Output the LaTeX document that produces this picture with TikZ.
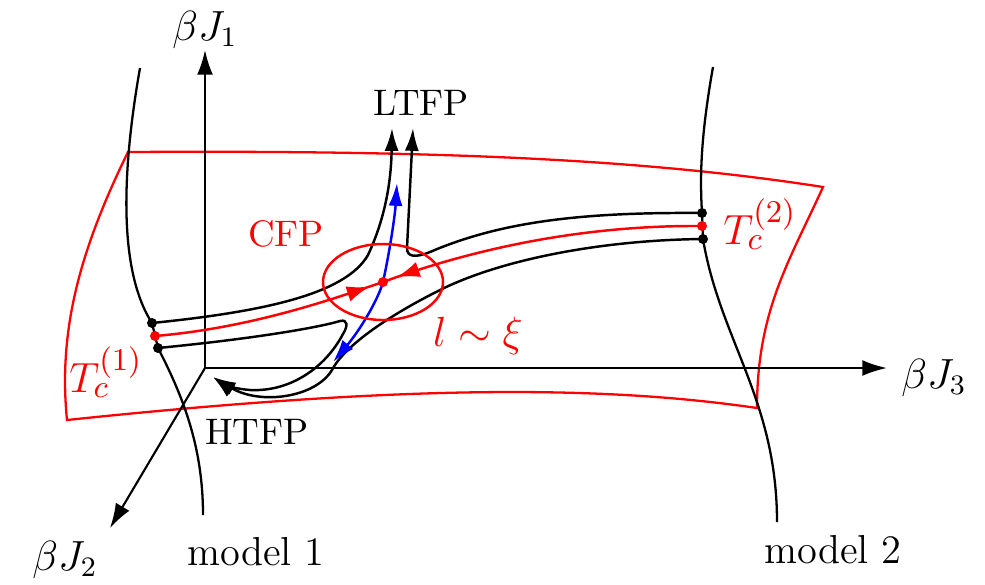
\documentclass[tikz,border=0pt]{standalone}
\usetikzlibrary{arrows.meta,decorations.markings}
\begin{document}
\begin{tikzpicture}[x=0.01cm,y=-0.01cm,
  axis/.style={-{Latex[length=7pt,width=4.5pt]}, line width=0.6pt},
  plane/.style={red, line width=0.65pt},
  model/.style={line width=0.65pt},
  flow/.style={line width=0.7pt},
  dot/.style={circle, fill, inner sep=0pt, minimum size=1mm},
  tip/.style={-{Latex[length=6.5pt,width=4pt]}},
  midarrow/.style={postaction={decorate}, decoration={markings,
    mark=at position #1 with {\arrow{Latex[length=6.5pt,width=4.5pt]}}}},
  lbl/.style={inner sep=0pt, font=\fontsize{10.5}{12}\selectfont},
  tlbl/.style={inner sep=0pt, font=\fontsize{11.5}{13}\selectfont},
  mlbl/.style={inner sep=0pt, font=\fontsize{12}{14}\selectfont},
  rlbl/.style={inner sep=0pt, red, font=\fontsize{13}{15}\selectfont}
]
\useasboundingbox (0,0) rectangle (985,584);

% points
\coordinate (o) at (205,368);
\coordinate (j1) at (205,50);
\coordinate (j2) at (110,528);
\coordinate (j3) at (887,368);
\coordinate (cfp) at (383,282);
\coordinate (a1) at (152,323);
\coordinate (r1) at (155,336);
\coordinate (b1) at (158,348);
\coordinate (a2) at (702,213);
\coordinate (r2) at (702,226);
\coordinate (b2) at (703,239);
\coordinate (lt1) at (392,128);
\coordinate (lt2) at (413,128);
\coordinate (ht) at (213,377);

% critical surface
\draw[plane] (128,152) .. controls (450,150) and (650,160) .. (823,187)
  .. controls (790,260) and (757,310) .. (757,408)
  .. controls (600,385) and (400,385) .. (67,420)
  .. controls (58,330) and (80,250) .. cycle;

% axes
\draw[axis] (o) -- (j1);
\draw[axis] (o) -- (j3);
\draw[axis] (o) -- (j2);

% model lines
\draw[model] (140,68) .. controls (122,170) and (118,270) .. (a1) -- (b1)
  .. controls (185,400) and (203,450) .. (203,515);
\draw[model] (713,67) .. controls (700,140) and (700,180) .. (a2) -- (b2)
  .. controls (720,340) and (777,400) .. (777,522);

% flows
\draw[flow, tip] (a1) .. controls (260,312) and (345,295) .. (368,255)
  .. controls (382,225) and (391,190) .. (lt1);
\draw[flow, tip] (a2) .. controls (580,212) and (500,222) .. (430,252)
  .. controls (415,258) and (407,257) .. (407,248) -- (lt2);
\draw[flow, tip] (b1) .. controls (260,338) and (320,327) .. (340,321)
  .. controls (348,319) and (348,326) .. (343,334)
  .. controls (325,368) and (290,392) .. (250,390)
  .. controls (236,389) and (222,384) .. (ht);
\draw[flow, tip] (b2) .. controls (600,240) and (500,260) .. (440,290)
  .. controls (390,315) and (345,345) .. (332,370)
  .. controls (315,398) and (260,405) .. (ht);
\draw[red, line width=0.7pt, midarrow=0.94] (r1) .. controls (250,328) and (330,300) .. (cfp);
\draw[red, line width=0.7pt, midarrow=0.955] (r2) .. controls (580,225) and (470,250) .. (cfp);
\draw[blue, line width=0.7pt, {Latex[length=6.5pt,width=4pt]}-{Latex[length=6.5pt,width=4pt]}]
  (333,362) .. controls (360,330) and (378,300) .. (cfp)
  .. controls (390,250) and (395,215) .. (397,183);
\draw[red, line width=0.7pt] (cfp) ellipse [x radius=60, y radius=38];

% fixed points
\node[dot] (d1) at (a1) {};
\node[dot] (d2) at (b1) {};
\node[dot] (d3) at (a2) {};
\node[dot] (d4) at (b2) {};
\node[dot, red] (d5) at (r1) {};
\node[dot, red] (d6) at (r2) {};
\node[dot, red] (d7) at (cfp) {};

% labels
\node[mlbl] (lj1) at (205,30) {$\beta J_1$};
\node[mlbl] (lj2) at (65,560) {$\beta J_2$};
\node[mlbl] (lj3) at (934,378) {$\beta J_3$};
\node[lbl] (ltfp) at (421,103) {LTFP};
\node[lbl] (htfp) at (257,432) {HTFP};
\node[lbl, red] (lcfp) at (286,234) {CFP};
\node[rlbl] (lxi) at (478,336) {$l\sim\xi$};
\node[rlbl] (tc1) at (106,372) {$T_c^{(1)}$};
\node[rlbl] (tc2) at (760,224) {$T_c^{(2)}$};
\node[tlbl] (m1) at (256,552) {model 1};
\node[tlbl] (m2) at (833,550) {model 2};
\end{tikzpicture}
\end{document}
